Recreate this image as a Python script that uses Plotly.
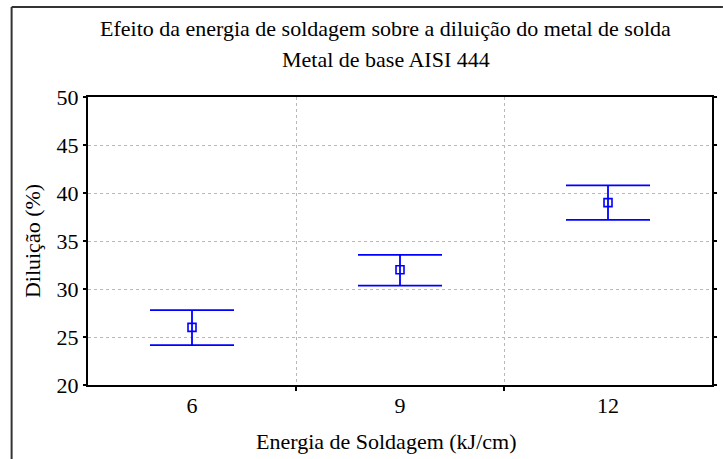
import plotly.graph_objects as go

categories = ["6", "9", "12"]
means = [26.0, 32.0, 39.0]
upper = [27.8, 33.55, 40.8]
lower = [24.15, 30.35, 37.2]

title_line1 = "Efeito da energia de soldagem sobre a diluição do metal de solda"
title_line2 = "Metal de base AISI 444"
x_title = "Energia de Soldagem (kJ/cm)"
y_title = "Diluição (%)"

W, H = 723, 459
L, R, T, B = 88, 6, 97, 74
pw, ph = W - L - R, H - T - B

xpos = list(range(len(categories)))
err_plus = [u - m for u, m in zip(upper, means)]
err_minus = [m - l for m, l in zip(means, lower)]

FONT = "'Times New Roman', 'Liberation Serif', serif"
BLUE = "#0000FF"
FS = 22

fig = go.Figure()
fig.add_trace(go.Scatter(
    x=xpos, y=means, mode="markers",
    marker=dict(symbol="square-open", size=8, color=BLUE, line=dict(width=1.6, color=BLUE)),
    error_y=dict(type="data", symmetric=False, array=err_plus, arrayminus=err_minus,
                 color=BLUE, thickness=1.8, width=42),
    showlegend=False,
))

fig.update_layout(
    width=W, height=H,
    margin=dict(l=L, r=R, t=T, b=B),
    paper_bgcolor="white", plot_bgcolor="white",
    font=dict(family=FONT, size=FS, color="black"),
    xaxis=dict(
        range=[-0.5, len(categories) - 0.5],
        tickvals=xpos, ticktext=categories, ticks="",
        showgrid=False, zeroline=False,
        showline=True, linecolor="black", linewidth=2, mirror=True,
        tickfont=dict(family=FONT, size=FS),
        minor=dict(tickvals=[i + 0.5 for i in xpos[:-1]], showgrid=True,
                   gridcolor="#b8b8b8", griddash="dot", gridwidth=1,
                   ticks="outside", ticklen=4, tickcolor="black", tickwidth=1.5),
    ),
    yaxis=dict(
        range=[20, 50], dtick=5,
        showgrid=True, gridcolor="#b8b8b8", griddash="dot", gridwidth=1,
        zeroline=False,
        showline=True, linecolor="black", linewidth=2, mirror="ticks",
        ticks="outside", ticklen=3, tickcolor="black", tickwidth=1.5,
        tickfont=dict(family=FONT, size=FS),
        title=dict(text=y_title, font=dict(family=FONT, size=FS), standoff=10),
    ),
)

tx = (388 - L) / pw
fig.add_annotation(text=title_line1, xref="paper", yref="paper",
                   x=tx, y=1 + (T - 28) / ph, showarrow=False,
                   font=dict(family=FONT, size=FS), xanchor="center", yanchor="middle")
fig.add_annotation(text=title_line2, xref="paper", yref="paper",
                   x=tx, y=1 + (T - 59) / ph, showarrow=False,
                   font=dict(family=FONT, size=FS), xanchor="center", yanchor="middle")
fig.add_annotation(text=x_title, xref="paper", yref="paper",
                   x=tx, y=-(441 - (H - B)) / ph, showarrow=False,
                   font=dict(family=FONT, size=FS), xanchor="center", yanchor="middle")

fx0 = (11 - L) / pw
fy1 = 1 + (T - 7) / ph
fx1 = (W + 5 - L) / pw
fy0 = -(B + 5) / ph
fig.add_shape(type="line", xref="paper", yref="paper", x0=fx0, x1=fx0, y0=fy0, y1=fy1,
              line=dict(color="#333333", width=2))
fig.add_shape(type="line", xref="paper", yref="paper", x0=fx0, x1=fx1, y0=fy1, y1=fy1,
              line=dict(color="#333333", width=2))

fig.write_html("out.html")
